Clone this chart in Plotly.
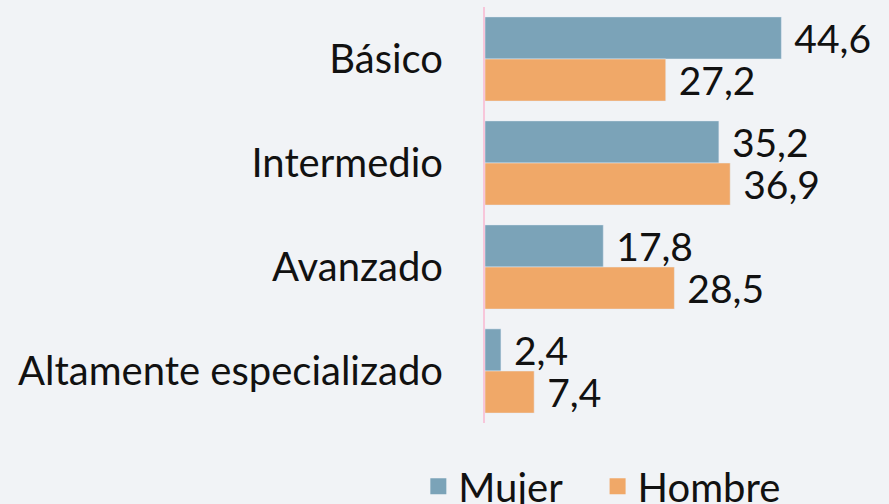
import plotly.graph_objects as go

categorias = ["Básico", "Intermedio", "Avanzado", "Altamente especializado"]
mujer = [44.6, 35.2, 17.8, 2.4]
hombre = [27.2, 36.9, 28.5, 7.4]

color_mujer = "#7BA3B8"
color_hombre = "#F0A868"


def fmt(v):
    return " " + f"{v:.1f}".replace(".", ",")


fig = go.Figure()
fig.add_trace(go.Bar(
    y=categorias, x=mujer, name="Mujer", orientation="h",
    marker=dict(color=color_mujer),
    text=[fmt(v) for v in mujer], textposition="outside",
    cliponaxis=False, showlegend=False,
))
fig.add_trace(go.Bar(
    y=categorias, x=hombre, name="Hombre", orientation="h",
    marker=dict(color=color_hombre),
    text=[fmt(v) for v in hombre], textposition="outside",
    cliponaxis=False, showlegend=False,
))
# legend entries with larger square keys (nbsp pads the gap between items)
for nombre, color in [("Mujer\u00a0\u00a0\u00a0", color_mujer), ("Hombre", color_hombre)]:
    fig.add_trace(go.Scatter(
        x=[None], y=[None], mode="markers", name=nombre,
        marker=dict(symbol="square", size=16, color=color),
    ))

fig.update_layout(
    width=889, height=504,
    margin=dict(l=485, r=0, t=7, b=81, autoexpand=False),
    paper_bgcolor="#F1F3F6",
    plot_bgcolor="rgba(0,0,0,0)",
    barmode="group",
    bargap=0.19,
    bargroupgap=0,
    font=dict(family="Lato, Noto Sans, sans-serif", size=39, color="#111111"),
    uniformtext=dict(minsize=39, mode="show"),
    showlegend=True,
    legend=dict(
        orientation="h", x=-0.165, xanchor="left", y=-0.152, yanchor="middle",
        font=dict(size=40), traceorder="normal", itemsizing="trace",
        bgcolor="rgba(0,0,0,0)",
    ),
)
fig.update_xaxes(
    range=[0, 60.8], showgrid=False, showticklabels=False,
    zeroline=False, showline=False,
)
fig.update_yaxes(
    autorange="reversed", showgrid=False, ticks="",
    showline=True, linecolor="#F7C6DA", linewidth=2,
    ticklabelstandoff=32, tickfont=dict(size=40),
)

fig.write_html(
    "out.html",
    config={"displayModeBar": False},
    post_script="document.body.style.margin='0';",
)
